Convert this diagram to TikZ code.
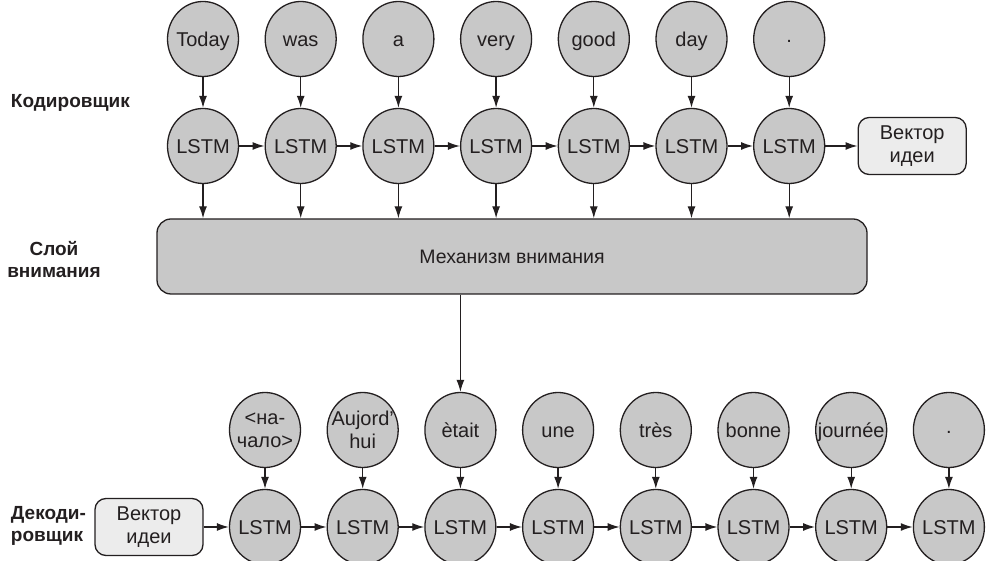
\documentclass[tikz,border=0pt]{standalone}
\usepackage{fontspec}
\setmainfont{Liberation Sans}
\usetikzlibrary{arrows.meta,positioning,shapes.geometric}

\definecolor{cellgray}{RGB}{200,200,200}
\definecolor{ideagray}{RGB}{236,236,236}
\definecolor{ink}{RGB}{35,31,32}

\begin{document}
\begin{tikzpicture}[x=1pt, y=1pt, ink, -{Latex[length=12pt, width=8pt]}, node distance = 97.7pt, on grid, line width=1.3pt,
  cell/.style = {draw, ellipse, fill=cellgray, minimum width=71pt, minimum height=75pt, inner sep=-16pt, align=center, font=\fontsize{20}{23}\selectfont},
  word/.style = {cell, text height=14.4pt, text depth=0pt},
  idea/.style = {draw, rounded corners=11pt, fill=ideagray, minimum width=108pt, minimum height=57pt, align=center, font=\fontsize{20}{23}\selectfont},
  attn/.style = {draw, rounded corners=14pt, fill=cellgray, minimum width=710pt, minimum height=75pt, font=\fontsize{19.5}{23}\selectfont},
  side/.style = {font=\fontsize{19}{22}\selectfont\bfseries}]
\useasboundingbox (0,0) rectangle (988,561);

% encoder: input words
\node[word] (w1) at (203,522) {Today};
\node[word, right of=w1] (w2) {was};
\node[word, right of=w2] (w3) {a};
\node[word, right of=w3] (w4) {very};
\node[word, right of=w4] (w5) {good};
\node[word, right of=w5] (w6) {day};
\node[word, right of=w6] (w7) {\raisebox{4pt}{.}};

% encoder: LSTM cells
\node[word, below=107pt of w1] (e1) {LSTM};
\node[word, right of=e1] (e2) {LSTM};
\node[word, right of=e2] (e3) {LSTM};
\node[word, right of=e3] (e4) {LSTM};
\node[word, right of=e4] (e5) {LSTM};
\node[word, right of=e5] (e6) {LSTM};
\node[word, right of=e6] (e7) {LSTM};
\node[idea, right=123pt of e7] (vec1) {Вектор\\идеи};

% attention layer
\node[attn] (attn) at (512,304.5) {Механизм внимания};

% decoder: output words
\node[cell] (o1) at (265,131) {<на-\\чало>};
\node[cell, right of=o1] (o2) {Aujord'\\hui};
\node[word, right of=o2] (o3) {ètait};
\node[word, right of=o3] (o4) {une};
\node[word, right of=o4] (o5) {très};
\node[word, right of=o5] (o6) {bonne};
\node[word, right of=o6] (o7) {journée};
\node[word, right of=o7] (o8) {\raisebox{4pt}{.}};

% decoder: LSTM cells
\node[word, below=97pt of o1] (d1) {LSTM};
\node[word, right of=d1] (d2) {LSTM};
\node[word, right of=d2] (d3) {LSTM};
\node[word, right of=d3] (d4) {LSTM};
\node[word, right of=d4] (d5) {LSTM};
\node[word, right of=d5] (d6) {LSTM};
\node[word, right of=d6] (d7) {LSTM};
\node[word, right of=d7] (d8) {LSTM};
\node[idea, left=116pt of d1] (vec2) {Вектор\\идеи};

% row labels
\node[side, anchor=west] (enc) at (7,458) {Кодировщик};
\node[side, align=center] (lay) at (54,301) {Слой\\внимания};
\node[side, align=left, anchor=west] (dec) at (7,35) {Декоди-\\ровщик};

\path (w1) edge (e1) (w2) edge (e2) (w3) edge (e3) (w4) edge (e4)
      (w5) edge (e5) (w6) edge (e6) (w7) edge (e7);
\path (e1) edge (e2) (e2) edge (e3) (e3) edge (e4) (e4) edge (e5)
      (e5) edge (e6) (e6) edge (e7) (e7) edge (vec1);

\draw (e1) -- (e1 |- attn.north);
\draw (e2) -- (e2 |- attn.north);
\draw (e3) -- (e3 |- attn.north);
\draw (e4) -- (e4 |- attn.north);
\draw (e5) -- (e5 |- attn.north);
\draw (e6) -- (e6 |- attn.north);
\draw (e7) -- (e7 |- attn.north);
\draw (attn.south -| o3) -- (o3);

\path (o1) edge (d1) (o2) edge (d2) (o3) edge (d3) (o4) edge (d4)
      (o5) edge (d5) (o6) edge (d6) (o7) edge (d7) (o8) edge (d8);
\path (vec2) edge (d1) (d1) edge (d2) (d2) edge (d3) (d3) edge (d4)
      (d4) edge (d5) (d5) edge (d6) (d6) edge (d7) (d7) edge (d8);
\end{tikzpicture}
\end{document}
